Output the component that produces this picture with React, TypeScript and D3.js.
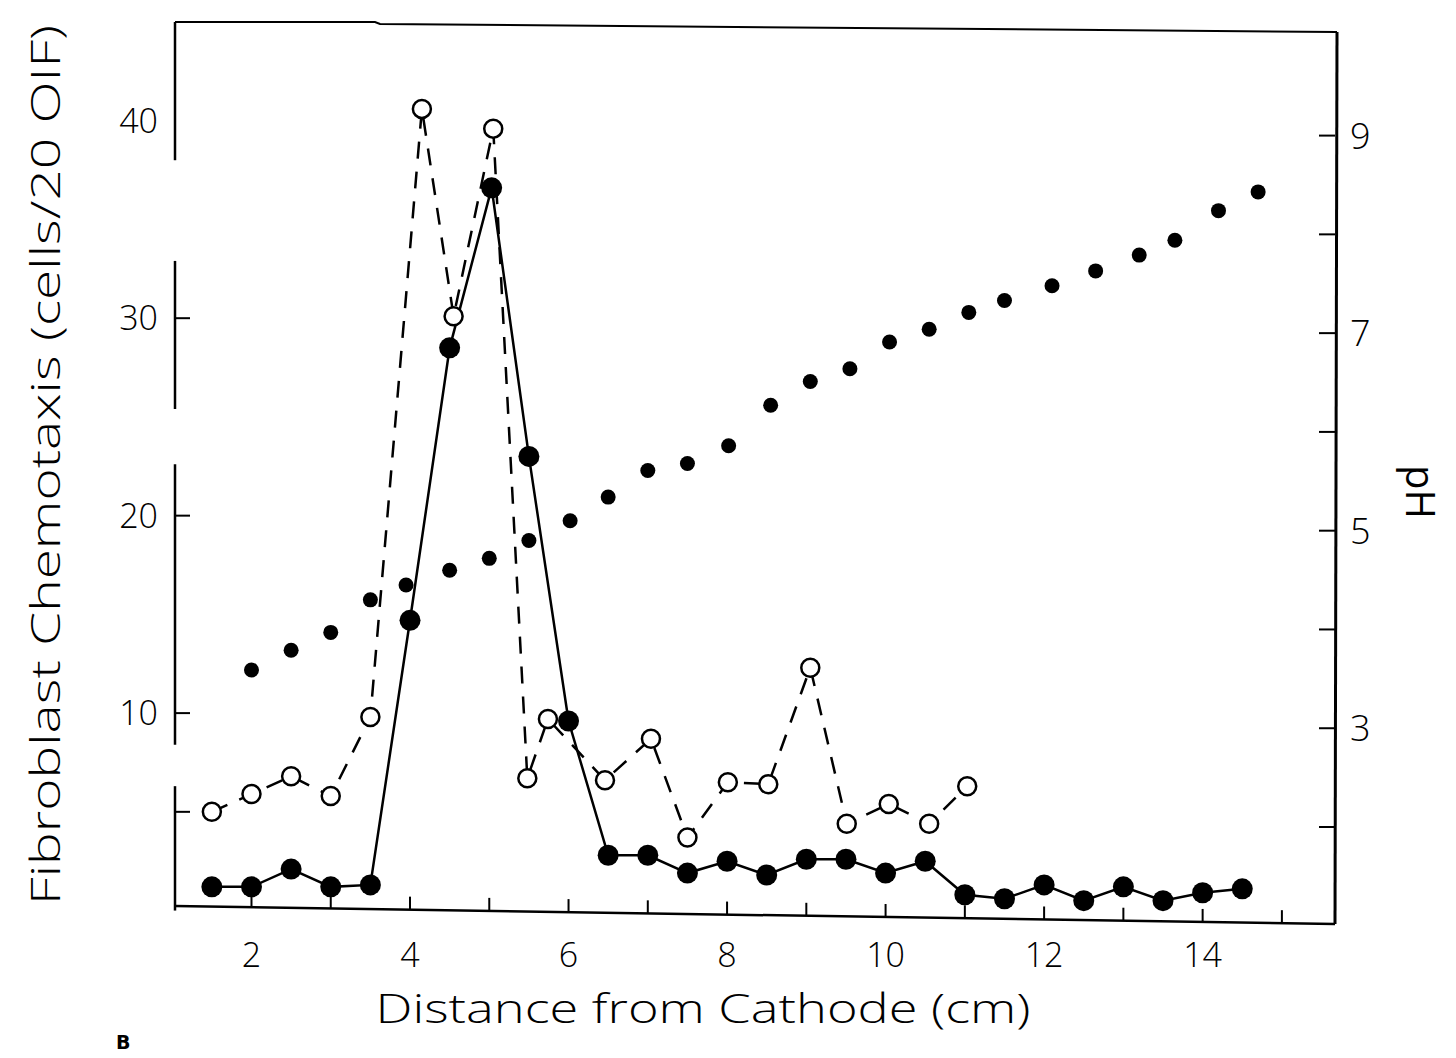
import * as d3 from "d3";

// solid line, filled markers (chemotaxis)
const solidX = [1.5, 2, 2.5, 3, 3.5, 4, 4.5, 5.03, 5.5, 6, 6.5, 7, 7.5, 8, 8.5, 9, 9.5, 10, 10.5, 11, 11.5, 12, 12.5, 13, 13.5, 14, 14.5];
const solidY = [1.2, 1.2, 2.1, 1.2, 1.3, 14.7, 28.5, 36.6, 23.0, 9.6, 2.8, 2.8, 1.9, 2.5, 1.8, 2.6, 2.6, 1.9, 2.5, 0.8, 0.6, 1.3, 0.5, 1.2, 0.5, 0.9, 1.1];

// dashed line, open markers
const openX = [1.5, 2, 2.5, 3, 3.5, 4.15, 4.55, 5.05, 5.48, 5.74, 6.46, 7.04, 7.5, 8.01, 8.52, 9.05, 9.51, 10.04, 10.55, 11.03];
const openY = [5.0, 5.9, 6.8, 5.8, 9.8, 40.6, 30.1, 39.6, 6.7, 9.7, 6.6, 8.7, 3.7, 6.5, 6.4, 12.3, 4.4, 5.4, 4.4, 6.3];

// pH dots, right axis
const phX = [2, 2.5, 3, 3.5, 3.95, 4.5, 5, 5.5, 6.02, 6.5, 7, 7.5, 8.02, 8.55, 9.05, 9.55, 10.05, 10.55, 11.05, 11.5, 12.1, 12.65, 13.2, 13.65, 14.2, 14.7];
const phY = [3.59, 3.79, 3.97, 4.3, 4.45, 4.6, 4.72, 4.9, 5.1, 5.34, 5.61, 5.68, 5.86, 6.27, 6.51, 6.64, 6.91, 7.04, 7.21, 7.33, 7.48, 7.63, 7.79, 7.94, 8.24, 8.43];

const xTicks = [2, 3, 4, 5, 6, 7, 8, 9, 10, 11, 12, 13, 14, 15];
const xLabels = [2, 4, 6, 8, 10, 12, 14];
const leftTicks = [5, 10, 20, 30];
const leftLabels = [10, 20, 30, 40];
const rightTicks = [2, 3, 4, 5, 6, 7, 8, 9];
const rightLabels = [3, 5, 7, 9];
// pieces of the left axis that survive in the print
const leftAxisPieces = [[45, 38.0], [32.9, 25.4], [22.6, 8.4], [6.3, 0]];

const W = 1456;
const H = 1058;
const L = 175, R = 1335, T = 22, B = 908;

const font = "'Open Sans', 'DejaVu Sans', sans-serif";

export default function App() {
  const x = d3.scaleLinear().domain([1.035, 15.67]).range([L, R]);
  const yL = d3.scaleLinear().domain([0.13, 45]).range([B, T]);
  const yR = d3.scaleLinear().domain([1.18, 10.15]).range([B, T]);
  // the bottom rule sags a little to the right
  const base = (px: number) => 906 + ((px - L) / (R - L)) * 18;

  const solidLine = d3.line<number>().x((_, i) => x(solidX[i])).y((d) => yL(d));
  const openLine = d3.line<number>().x((_, i) => x(openX[i])).y((d) => yL(d));

  return (
    <svg width={W} height={H} style={{ position: "absolute", left: 0, top: 0, background: "#fff" }}>
      {/* frame */}
      <polyline points={`${L},${T} ${375},${T} ${380},${T + 2} ${R + 2},${T + 10}`} fill="none" stroke="#000" strokeWidth={2} />
      {leftAxisPieces.map(([a, b], i) => (
        <line key={i} x1={L} x2={L} y1={yL(a)} y2={yL(b)} stroke="#000" strokeWidth={2.5} />
      ))}
      <line x1={R + 2} x2={R} y1={T + 10} y2={base(R)} stroke="#000" strokeWidth={3} />
      <line x1={L} x2={R} y1={base(L)} y2={base(R)} stroke="#000" strokeWidth={2.5} />

      {/* x ticks */}
      {xTicks.map((t) => (
        <line key={t} x1={x(t)} x2={x(t)} y1={base(x(t))} y2={base(x(t)) - 13} stroke="#000" strokeWidth={2} />
      ))}
      {xLabels.map((t) => (
        <text key={t} x={x(t)} y={967} textAnchor="middle" fontFamily={font} fontWeight={300} fontSize={34}>{t}</text>
      ))}

      {/* left ticks */}
      {leftTicks.map((t) => (
        <line key={t} x1={L} x2={L + 15} y1={yL(t)} y2={yL(t)} stroke="#000" strokeWidth={2} />
      ))}
      {leftLabels.map((t) => (
        <text key={t} x={158} y={yL(t) + 12} textAnchor="end" fontFamily={font} fontWeight={300} fontSize={34}>{t}</text>
      ))}

      {/* right ticks */}
      {rightTicks.map((t) => (
        <line key={t} x1={R} x2={R - 16} y1={yR(t)} y2={yR(t)} stroke="#000" strokeWidth={2} />
      ))}
      {rightLabels.map((t) => (
        <text key={t} x={1350} y={yR(t) + 13} textAnchor="start" fontFamily={font} fontWeight={300} fontSize={36}>{t}</text>
      ))}

      {/* lines */}
      <path d={openLine(openY) || ""} fill="none" stroke="#000" strokeWidth={2.5} strokeDasharray="17 13" />
      <path d={solidLine(solidY) || ""} fill="none" stroke="#000" strokeWidth={2.5} />

      {/* markers */}
      {phY.map((v, i) => (
        <circle key={"p" + i} cx={x(phX[i])} cy={yR(v)} r={7.5} fill="#000" />
      ))}
      {openY.map((v, i) => (
        <circle key={"o" + i} cx={x(openX[i])} cy={yL(v)} r={9} fill="#fff" stroke="#000" strokeWidth={2.5} />
      ))}
      {solidY.map((v, i) => (
        <circle key={"s" + i} cx={x(solidX[i])} cy={yL(v)} r={10.5} fill="#000" />
      ))}

      {/* axis titles */}
      <text transform="translate(60,465) rotate(-90)" textAnchor="middle" fontFamily={font} fontWeight={300} fontSize={40} textLength={880} lengthAdjust="spacingAndGlyphs">
        Fibroblast Chemotaxis (cells/20 OIF)
      </text>
      <text x={703} y={1023} textAnchor="middle" fontFamily={font} fontWeight={300} fontSize={40} textLength={655} lengthAdjust="spacingAndGlyphs">
        Distance from Cathode (cm)
      </text>
      <text transform="translate(1406,492) rotate(90)" textAnchor="middle" fontFamily={font} fontWeight={400} fontSize={40}>
        pH
      </text>
      <text x={116} y={1049} fontFamily="'DejaVu Sans', sans-serif" fontWeight={700} fontSize={19}>B</text>
    </svg>
  );
}
